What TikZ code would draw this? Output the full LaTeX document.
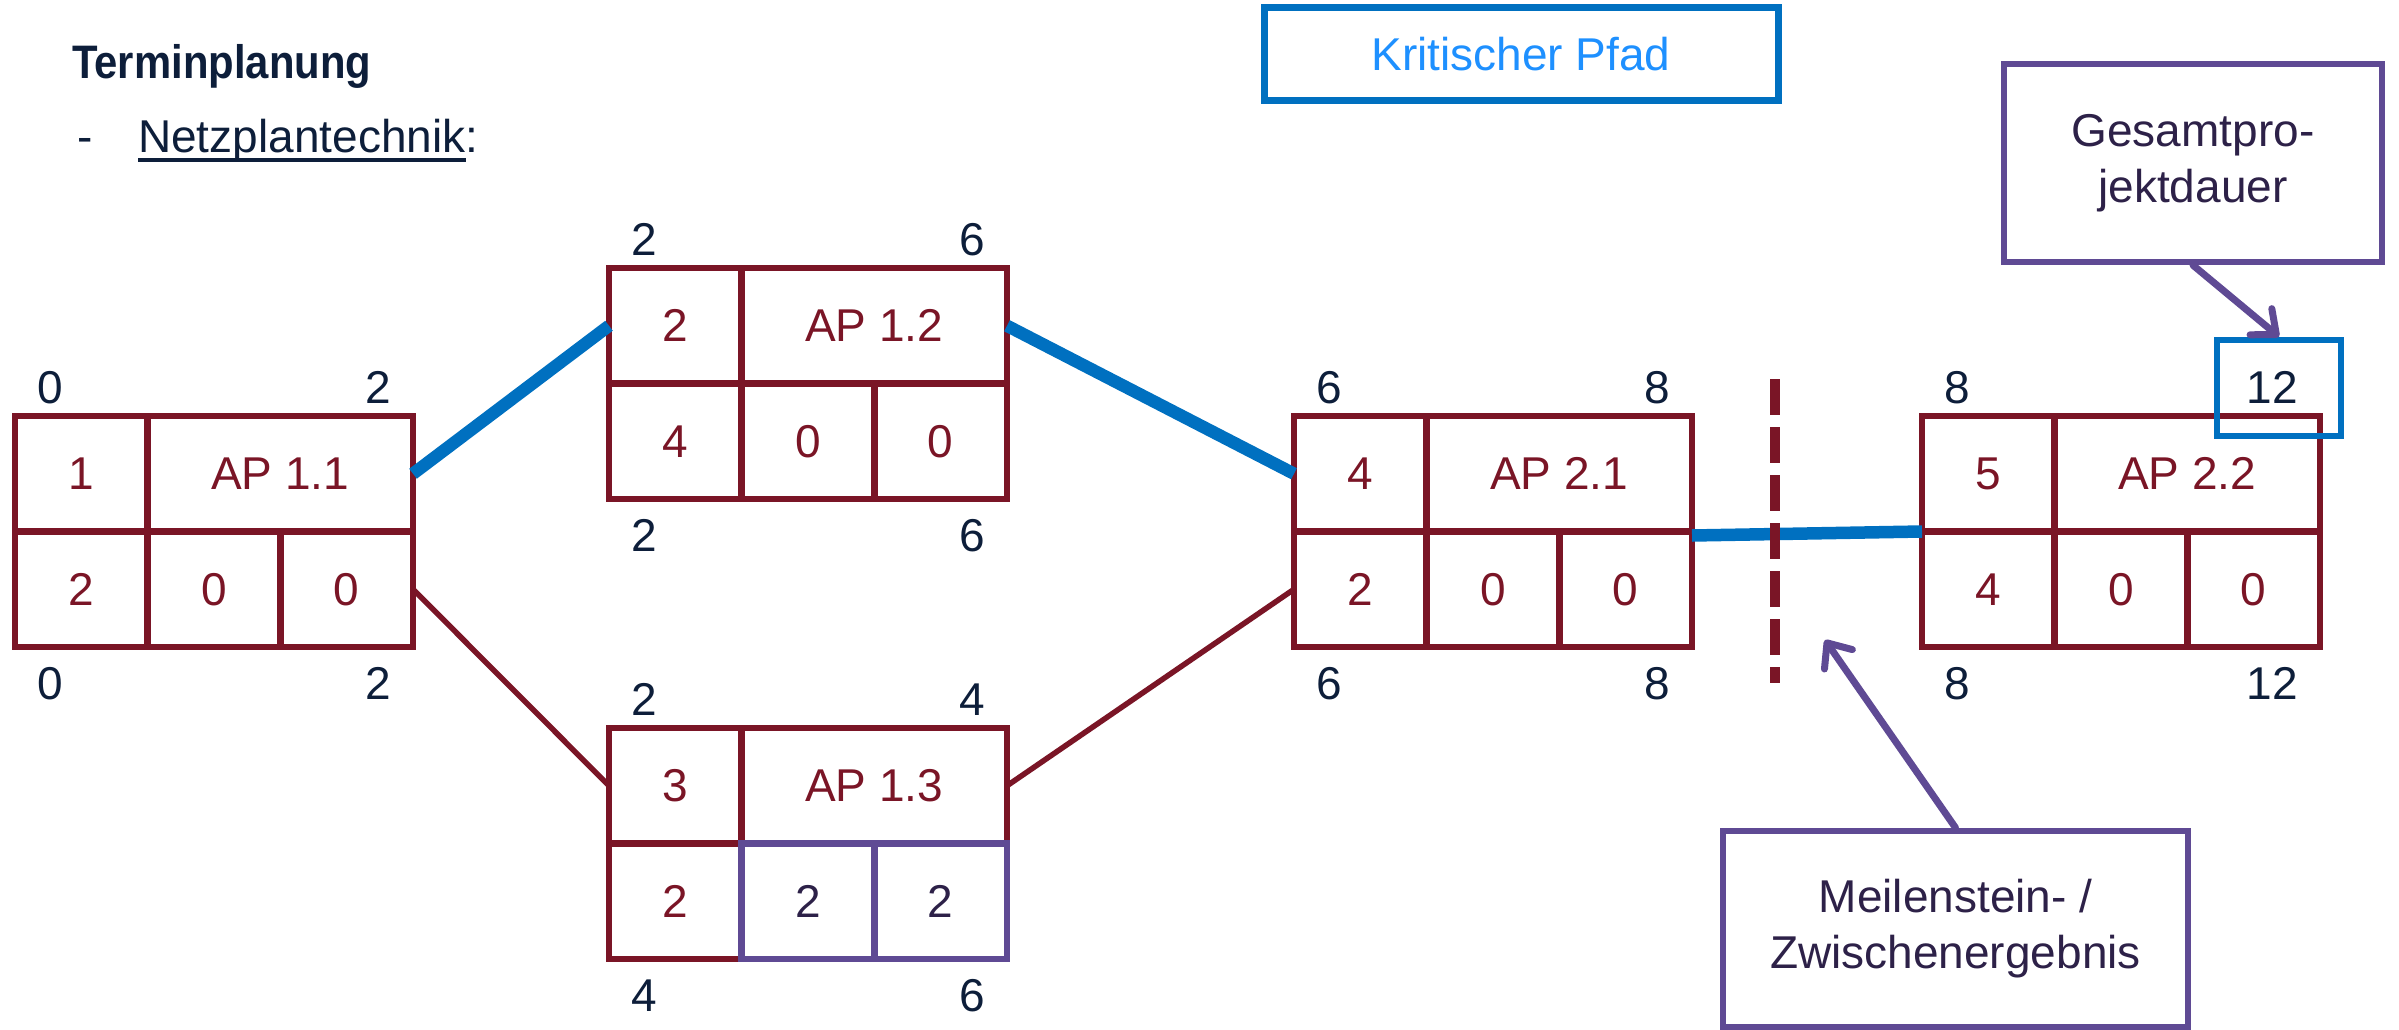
\documentclass[tikz,border=0pt]{standalone}
\usepackage{graphicx}
\usepackage{fontspec}
\setmainfont{Liberation Sans}
\usetikzlibrary{arrows.meta}

\definecolor{apred}{HTML}{7A1526}
\definecolor{critblue}{HTML}{0070C0}
\definecolor{critlabel}{HTML}{1E90FF}
\definecolor{notepurple}{HTML}{5F4A94}
\definecolor{notetext}{HTML}{2D2148}
\definecolor{navy}{HTML}{0D1E3A}

\tikzset{
  cell/.style={draw=apred, line width=6.5pt, text=apred, minimum width=132.67pt,
    minimum height=115.5pt, inner sep=0pt, outer sep=0pt, anchor=north west},
  widecell/.style={cell, minimum width=265.33pt},
  slackcell/.style={draw=notepurple, text=notetext},
  plaincell/.style={},
  time/.style={text=navy, inner sep=0pt},
  critical/.style={draw=critblue, line width=12.5pt},
  normal/.style={draw=apred, line width=5.5pt},
  note/.style={draw=notepurple, line width=6.5pt, text=notetext, align=center,
    inner sep=0pt},
  pointer/.style={draw=notepurple, line width=7pt, line cap=round,
    -{Straight Barb[length=20pt,width=34pt,line cap=round,line join=round]}},
}

% work package: name, left x, top y, number, title, duration, buffer 1, buffer 2, buffer style
\newcommand\apbox[9]{%
  \node[cell] (#1-id) at ({#2},{#3}) {#4};
  \node[widecell] (#1-t) at ({#2+132.67},{#3}) {#5};
  \node[cell] (#1-d) at ({#2},{#3+115.5}) {#6};
  \node[cell,#9] (#1-f1) at ({#2+132.67},{#3+115.5}) {#7};
  \node[cell,#9] (#1-f2) at ({#2+265.33},{#3+115.5}) {#8};
}
% start/finish times around a work package: name, left x, top y, ES, EF, LS, LF
\newcommand\aptimes[7]{%
  \node[time, anchor=base west] (#1-es) at ({#2+22},{#3-13}) {#4};
  \node[time, anchor=base east] (#1-ef) at ({#2+376},{#3-13}) {#5};
  \node[time, anchor=base west] (#1-ls) at ({#2+22},{#3+283}) {#6};
  \node[time, anchor=base east] (#1-lf) at ({#2+376},{#3+283}) {#7};
}

\begin{document}
\begin{tikzpicture}[x=1pt, y=-1pt, font=\fontsize{46}{56}\selectfont]
\useasboundingbox (0,0) rectangle (2399,1030);

% heading
\node[anchor=base west, inner sep=0pt, text=navy, font=\fontsize{47}{56}\selectfont\bfseries]
  (title) at (72,79) {\scalebox{0.89}[1]{Terminplanung}};
\node[anchor=base west, inner sep=0pt, text=navy] (bullet) at (77,153) {-};
\node[anchor=base west, inner sep=0pt, text=navy] (technik) at (138,153) {Netzplantechnik};
\node[anchor=base west, inner sep=0pt, text=navy] (colon) at (technik.base east) {:};
\draw[navy, line width=4pt] ([yshift=-7pt]technik.base west) -- ([yshift=-7pt]technik.base east);

% work packages
\apbox{a11}{15}{416}{1}{AP 1.1}{2}{0}{0}{plaincell}
\apbox{a12}{609}{268}{2}{AP 1.2}{4}{0}{0}{plaincell}
\apbox{a13}{609}{728}{3}{AP 1.3}{2}{2}{2}{slackcell}
\apbox{a21}{1294}{416}{4}{AP 2.1}{2}{0}{0}{plaincell}
\apbox{a22}{1922}{416}{5}{AP 2.2}{4}{0}{0}{plaincell}

\aptimes{a11}{15}{416}{0}{2}{0}{2}
\aptimes{a12}{609}{268}{2}{6}{2}{6}
\aptimes{a13}{609}{728}{2}{4}{4}{6}
\aptimes{a21}{1294}{416}{6}{8}{6}{8}
\aptimes{a22}{1922}{416}{8}{12}{8}{12}

% dependencies
\draw[critical] (a11-t.east) -- (a12-id.west);
\draw[critical] (a12-t.east) -- (a21-id.west);
\draw[critical] ([yshift=-4pt]a21-t.south east) -- (a22-id.south west);
\draw[normal] (a11-f2.east) -- (a13-id.west);
\draw[normal] (a13-t.east) -- (a21-d.west);

% milestone
\coordinate (mtop) at (1775,379);
\coordinate (mbot) at (1775,683);
\draw[apred, line width=10pt, dash pattern=on 36pt off 12pt] (mtop) -- (mbot);

% legend and notes
\node[draw=critblue, line width=7pt, text=critlabel, minimum width=514pt,
  minimum height=93pt, inner sep=0pt] (crit) at (1521,54.5) {Kritischer Pfad};
\node[draw=critblue, line width=6.5pt, minimum width=124pt, minimum height=96pt,
  inner sep=0pt] (tot) at (2279,388) {};
\node[note, minimum width=378pt, minimum height=198pt] (ges) at (2193,163)
  {Gesamtpro-\\jektdauer};
\node[note, minimum width=465pt, minimum height=196pt] (mst) at (1955.5,929)
  {Meilenstein- /\\Zwischenergebnis};
\coordinate (mpoint) at (1825,640);
\draw[pointer] (ges.south) -- (tot.north);
\draw[pointer] (mst.north) -- (mpoint);
\end{tikzpicture}
\end{document}
